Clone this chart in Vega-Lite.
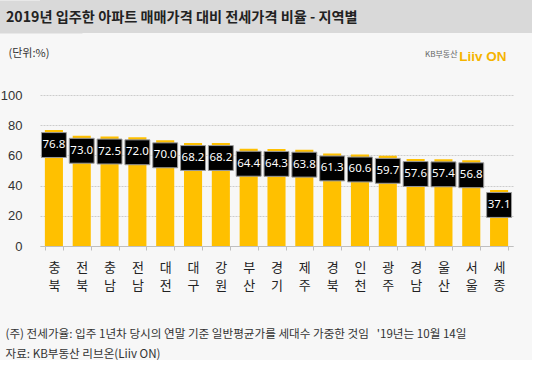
{
  "$schema": "https://vega.github.io/schema/vega-lite/v6.json",
  "padding": 0,
  "background": "#f7f7f7",
  "config": {"font": "Noto Sans CJK KR", "view": {"stroke": null}},
  "spacing": -11,
  "vconcat": [
    {
      "width": 492,
      "height": 33,
      "view": {"fill": "#d9d9d9", "stroke": null},
      "title": {"text": "2019년 입주한 아파트 매매가격 대비 전세가격 비율 - 지역별", "anchor": "start", "orient": "top", "offset": -25, "fontSize": 14.2, "fontWeight": "bold", "color": "#222222", "dx": -34},
      "data": {"values": [{"v": 0}]},
      "mark": {"type": "point", "opacity": 0},
      "encoding": {
        "y": {
          "field": "v", "type": "quantitative",
          "axis": {
            "domain": true, "domainWidth": 84, "domainColor": "#d9d9d9", "labels": false, "ticks": false, "grid": false,
            "title": "KB부동산", "titleAngle": 0, "titleAlign": "right", "titleBaseline": "middle",
            "titleX": 417, "titleY": 54, "titleFontSize": 8, "titleFontWeight": "normal", "titleColor": "#666666"
          }
        }
      }
    },
    {
      "width": 473,
      "height": 151,
      "title": {
        "text": "Liiv ON",
        "anchor": "end", "orient": "top", "offset": -16, "dx": -7,
        "fontSize": 13.5, "fontWeight": "bold", "font": "Liberation Sans", "color": "#f5b400"
      },
      "data": {"values": [
        {"region": "충북", "ratio": 76.8},
        {"region": "전북", "ratio": 73.0},
        {"region": "충남", "ratio": 72.5},
        {"region": "전남", "ratio": 72.0},
        {"region": "대전", "ratio": 70.0},
        {"region": "대구", "ratio": 68.2},
        {"region": "강원", "ratio": 68.2},
        {"region": "부산", "ratio": 64.4},
        {"region": "경기", "ratio": 64.3},
        {"region": "제주", "ratio": 63.8},
        {"region": "경북", "ratio": 61.3},
        {"region": "인천", "ratio": 60.6},
        {"region": "광주", "ratio": 59.7},
        {"region": "경남", "ratio": 57.6},
        {"region": "울산", "ratio": 57.4},
        {"region": "서울", "ratio": 56.8},
        {"region": "세종", "ratio": 37.1}
      ]},
      "encoding": {
        "x": {
          "field": "region", "type": "nominal", "sort": null,
          "scale": {"paddingInner": 0.35, "paddingOuter": 0.175},
          "axis": {
            "title": ["(주) 전세가율: 입주 1년차 당시의 연말 기준 일반평균가를 세대수 가중한 것임\u00a0\u00a0 '19년는 10월 14일", "자료: KB부동산 리브온(Liiv ON)"],
            "titleAnchor": "start", "titleAlign": "left", "titleX": -35, "titleY": 88,
            "titleBaseline": "middle", "titleFontSize": 11.6, "titleFontWeight": "normal",
            "titleColor": "#333333", "titleLineHeight": 20,
            "labelAngle": 0,
            "labelExpr": "[substring(datum.label,0,1), substring(datum.label,1,2)]",
            "labelFontSize": 13, "labelLineHeight": 18, "labelColor": "#222222",
            "labelPadding": 11, "labelBaseline": "top",
            "domainColor": "#bfbfbf", "tickColor": "#bfbfbf", "tickSize": 4,
            "tickBand": "extent", "grid": false
          }
        },
        "y": {
          "field": "ratio", "type": "quantitative",
          "scale": {"domain": [0, 100]},
          "axis": {
            "values": [0, 20, 40, 60, 80, 100],
            "labelOverlap": false,
            "grid": true, "gridColor": "#cccccc", "gridWidth": 1, "gridDash": [2, 1],
            "domain": false, "ticks": false,
            "labelPadding": 18, "labelFontSize": 13, "labelColor": "#333333",
            "labelFont": "Liberation Sans",
            "title": "(단위:%)", "titleAngle": 0, "titleAlign": "left",
            "titleBaseline": "middle", "titleX": -32, "titleY": -42,
            "titleFontSize": 11, "titleFontWeight": "normal", "titleColor": "#333333"
          }
        }
      },
      "layer": [
        {
          "mark": {"type": "bar", "color": "#ffc000"}
        },
        {
          "mark": {"type": "point", "shape": "square", "size": 620, "filled": true, "color": "#000000", "stroke": "#9a9a9a", "strokeWidth": 1, "opacity": 1, "yOffset": 15}
        },
        {
          "mark": {"type": "text", "color": "#ffffff", "fontSize": 11.5, "font": "Liberation Sans Narrow, Noto Sans", "yOffset": 15, "baseline": "middle"},
          "encoding": {
            "text": {"field": "ratio", "type": "quantitative", "format": ".1f"}
          }
        }
      ]
    }
  ]
}
